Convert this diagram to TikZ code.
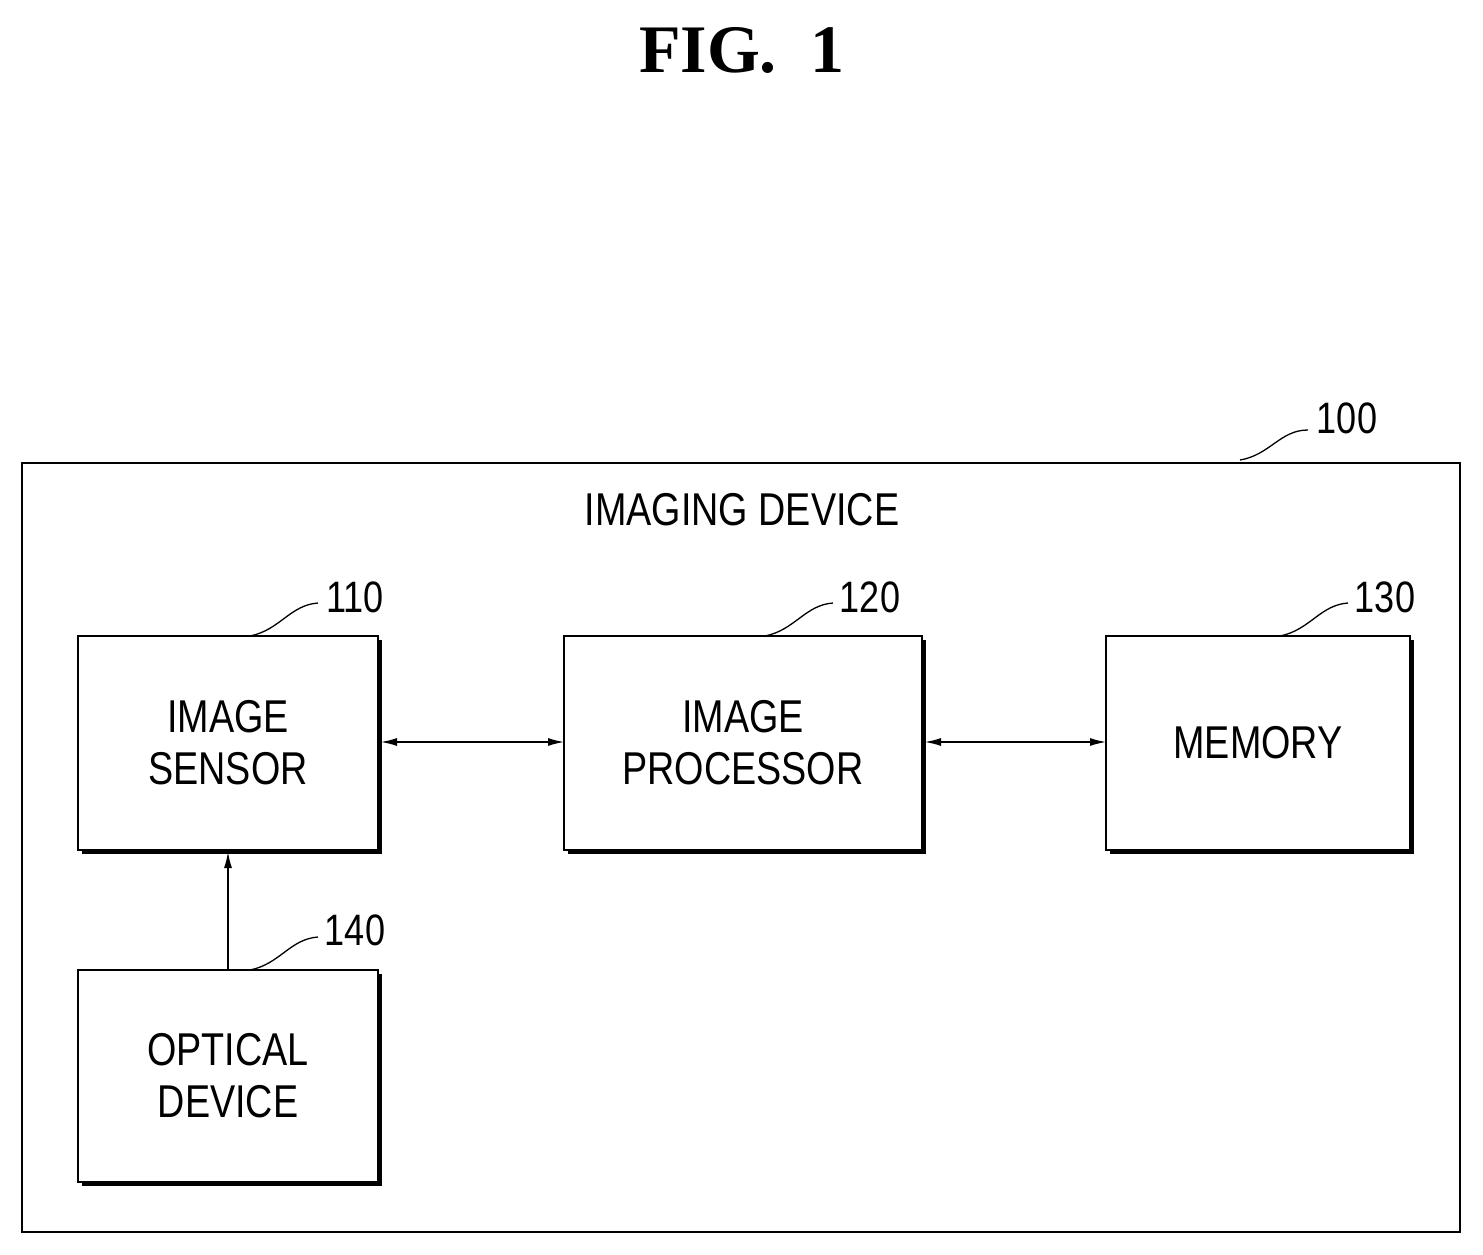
\documentclass[tikz,border=0pt]{standalone}
\usepackage{fontspec}
\setmainfont{Liberation Serif}
\newfontfamily\lab[FakeStretch=0.82]{Liberation Sans}
\begin{document}
\begin{tikzpicture}[x=1pt,y=-1pt,
  blk/.style={draw,line width=1.5pt,minimum width=#1,inner sep=0pt},
  txt/.style={font=\lab\fontsize{46}{52}\selectfont,align=center},
  num/.style={font=\lab\fontsize{44}{48}\selectfont},
  arr/.style={line width=1.3pt,-{Latex[length=16pt,width=8pt]}},
  darr/.style={line width=1.3pt,{Latex[length=16pt,width=8pt]}-{Latex[length=16pt,width=8pt]}}]
\useasboundingbox (0,0) rectangle (1483,1255);
\usetikzlibrary{arrows.meta}
\node (fig) at (742,50) {\fontsize{68}{70}\selectfont\bfseries FIG.\ \ 1};
\draw[line width=1.5pt] (22,463) rectangle (1460,1232);
\node[txt] (imd) at (742,510) {IMAGING DEVICE};
\node[num] (n100) at (1347,418) {100};
\draw[line width=1.3pt] (1240,460) .. controls (1270,455) and (1280,430) .. (1308,430);
\newcommand\shbox[5]{%
  \draw[line width=1.5pt] (#1,#2) rectangle (#3,#4);
  \draw[line width=3pt] (#3+2.5,#2+4) -- (#3+2.5,#4+2.5) -- (#1+4,#4+2.5);
  \node (#5) at ({(#1+#3)/2},{(#2+#4)/2}) {};}
\shbox{78}{636}{378}{850}{b110}
\shbox{564}{636}{922}{850}{b120}
\shbox{1106}{636}{1410}{850}{b130}
\shbox{78}{970}{378}{1182}{b140}
\node[txt] at (b110) {IMAGE\\SENSOR};
\node[txt] at (b120) {IMAGE\\PROCESSOR};
\node[txt] at (b130) {MEMORY};
\node[txt] at (b140) {OPTICAL\\DEVICE};
\node[num] (n110) at (355,597) {110};
\node[num] (n120) at (870,597) {120};
\node[num] (n130) at (1385,597) {130};
\node[num] (n140) at (355,930) {140};
\draw[line width=1.3pt] (250,636) .. controls (280,630) and (290,605) .. (318,603);
\draw[line width=1.3pt] (765,636) .. controls (795,630) and (805,605) .. (833,603);
\draw[line width=1.3pt] (1280,636) .. controls (1310,630) and (1320,605) .. (1348,603);
\draw[line width=1.3pt] (250,970) .. controls (280,964) and (290,939) .. (318,937);
\coordinate (a1) at (381,742); \coordinate (a2) at (564,742);
\coordinate (a3) at (925,742); \coordinate (a4) at (1106,742);
\coordinate (a5) at (228,970); \coordinate (a6) at (228,852);
\draw[darr] (a1) -- (a2);
\draw[darr] (a3) -- (a4);
\draw[arr] (a5) -- (a6);
\end{tikzpicture}
\end{document}
